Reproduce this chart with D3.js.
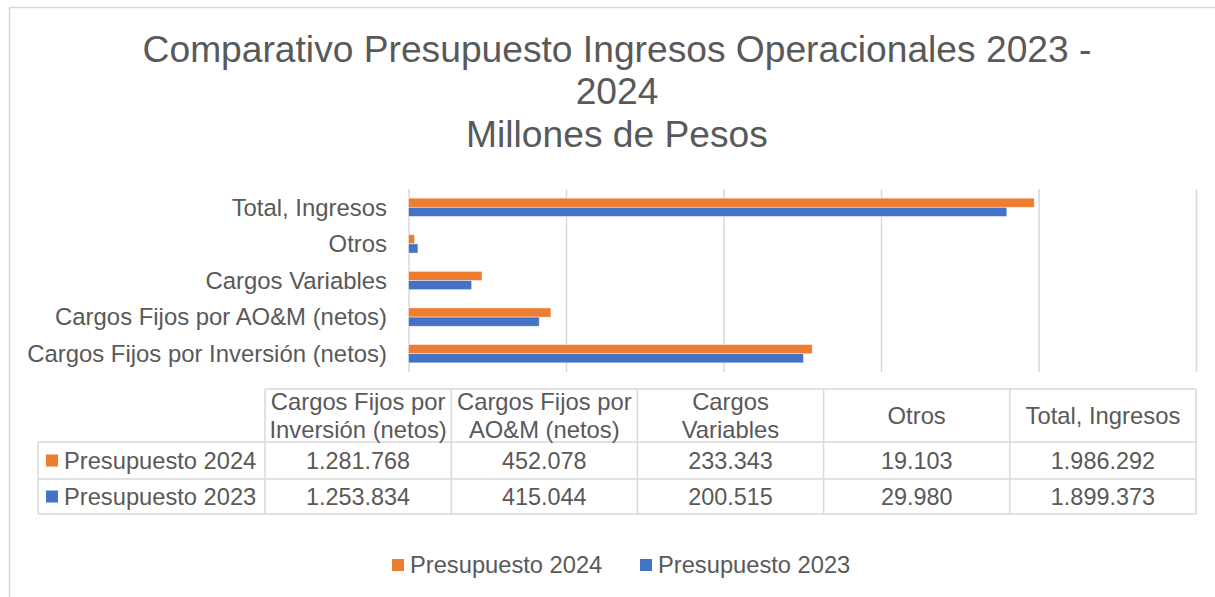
<!DOCTYPE html>
<html>
<head>
<meta charset="utf-8">
<script src="https://cdn.jsdelivr.net/npm/d3@7"></script>
<style>
  body { margin: 0; background: #fff; }
  svg { display: block; font-family: "Liberation Sans", Arial, sans-serif; }
</style>
</head>
<body>
<svg width="1215" height="597"></svg>
<script>
// data
const categories = ["Cargos Fijos por Inversión (netos)", "Cargos Fijos por AO&M (netos)", "Cargos Variables", "Otros", "Total, Ingresos"];
const headerLines = [["Cargos Fijos por", "Inversión (netos)"], ["Cargos Fijos por", "AO&M (netos)"], ["Cargos", "Variables"], ["Otros"], ["Total, Ingresos"]];
const seriesNames = ["Presupuesto 2024", "Presupuesto 2023"];
const values2024 = [1281768, 452078, 233343, 19103, 1986292];
const values2023 = [1253834, 415044, 200515, 29980, 1899373];
const xTicks = [0, 500000, 1000000, 1500000, 2000000, 2500000];
const titleLines = ["Comparativo Presupuesto Ingresos Operacionales 2023 -", "2024", "Millones de Pesos"];

const colors = { "Presupuesto 2024": "#ED7D31", "Presupuesto 2023": "#4472C4" };
const textColor = "#595959";
const lineColor = "#D9D9D9";

const fmt = d3.formatLocale({ decimal: ",", thousands: ".", grouping: [3], currency: ["$", ""] }).format(",d");

var series = seriesNames.map((name, i) => ({
  name: name,
  values: i == 0 ? values2024 : values2023
}));

var svg = d3.select("svg");

// chart frame
svg.append("rect")
  .attr("x", 9.5)
  .attr("y", 7.5)
  .attr("width", 1230)
  .attr("height", 620)
  .attr("fill", "none")
  .attr("stroke", lineColor)
  .attr("stroke-width", 1.5);

// title
svg.append("g").selectAll("text").data(titleLines).enter().append("text")
  .attr("x", 617)
  .attr("y", (d, i) => 61.5 + i * 42.5)
  .attr("text-anchor", "middle")
  .attr("fill", textColor)
  .style("font-size", "37.2px")
  .text(d => d);

// scales
var x = d3.scaleLinear().domain([0, 2500000]).range([408.5, 1196]);
var y = d3.scaleBand().domain(categories.slice().reverse()).range([189, 372])
  .paddingInner(0.5).paddingOuter(0.25);
var ySub = d3.scaleBand().domain(seriesNames).range([0, y.bandwidth()]);

// gridlines
svg.append("g")
  .attr("transform", "translate(0,372)")
  .call(d3.axisBottom(x).tickValues(xTicks).tickSize(-183).tickFormat(""))
  .call(g => g.select(".domain").remove())
  .call(g => g.selectAll(".tick line").attr("stroke", lineColor).attr("stroke-width", 1.5));

// bars
var groups = svg.append("g").selectAll("g").data(series).enter().append("g")
  .attr("fill", d => colors[d.name]);

groups.selectAll("rect").data(d => d.values.map((v, i) => ({ name: d.name, cat: categories[i], value: v })))
  .enter().append("rect")
  .attr("x", x(0))
  .attr("y", d => y(d.cat) + ySub(d.name))
  .attr("width", d => x(d.value) - x(0))
  .attr("height", ySub.bandwidth())
  .attr("stroke", "#fff")
  .attr("stroke-opacity", 0.6)
  .attr("stroke-width", 0.75);

// category axis labels
svg.append("g").selectAll("text").data(categories).enter().append("text")
  .attr("x", 387)
  .attr("y", d => y(d) + y.bandwidth() / 2)
  .attr("dy", "0.35em")
  .attr("text-anchor", "end")
  .attr("fill", textColor)
  .style("font-size", "23.9px")
  .text(d => d);

// data table
var col = d3.scaleBand().domain(categories).range([265, 1196]);
var rowTop = [389, 442, 479, 514];
var table = svg.append("g");

table.append("line")
  .attr("x1", 265).attr("x2", 1196).attr("y1", rowTop[0]).attr("y2", rowTop[0]);
rowTop.slice(1).forEach(yy => {
  table.append("line").attr("x1", 38).attr("x2", 1196).attr("y1", yy).attr("y2", yy);
});
table.append("line").attr("x1", 38).attr("x2", 38).attr("y1", rowTop[1]).attr("y2", rowTop[3]);
categories.forEach(c => {
  table.append("line").attr("x1", col(c)).attr("x2", col(c)).attr("y1", rowTop[0]).attr("y2", rowTop[3]);
});
table.append("line").attr("x1", 1196).attr("x2", 1196).attr("y1", rowTop[0]).attr("y2", rowTop[3]);
table.selectAll("line").attr("stroke", lineColor).attr("stroke-width", 1.5);

// header cells
categories.forEach((c, i) => {
  var lines = headerLines[i];
  var cy = (rowTop[0] + rowTop[1]) / 2;
  table.append("g").selectAll("text").data(lines).enter().append("text")
    .attr("x", col(c) + col.bandwidth() / 2)
    .attr("y", (d, j) => cy + (j - (lines.length - 1) / 2) * 28)
    .attr("dy", "0.35em")
    .attr("text-anchor", "middle")
    .attr("fill", textColor)
    .style("font-size", "23.8px")
    .text(d => d);
});

// value rows
series.forEach((s, r) => {
  var cy = (rowTop[r + 1] + rowTop[r + 2]) / 2;
  table.append("rect")
    .attr("x", 46).attr("y", cy - 6).attr("width", 12).attr("height", 12)
    .attr("fill", colors[s.name]);
  table.append("text")
    .attr("x", 64).attr("y", cy).attr("dy", "0.35em")
    .attr("fill", textColor)
    .style("font-size", "23.7px")
    .text(s.name);
  table.append("g").selectAll("text").data(s.values).enter().append("text")
    .attr("x", (d, i) => col(categories[i]) + col.bandwidth() / 2)
    .attr("y", cy)
    .attr("dy", "0.35em")
    .attr("text-anchor", "middle")
    .attr("fill", textColor)
    .style("font-size", "23.4px")
    .text(d => fmt(d));
});

// legend
var legendX = [392, 640];
var legend = svg.append("g").selectAll("g").data(seriesNames).enter().append("g")
  .attr("transform", (d, i) => "translate(" + legendX[i] + ",565)");
legend.append("rect")
  .attr("x", 0).attr("y", -6).attr("width", 12).attr("height", 12)
  .attr("fill", d => colors[d]);
legend.append("text")
  .attr("x", 18).attr("y", 0).attr("dy", "0.35em")
  .attr("fill", textColor)
  .style("font-size", "23.7px")
  .text(d => d);
</script>
</body>
</html>
